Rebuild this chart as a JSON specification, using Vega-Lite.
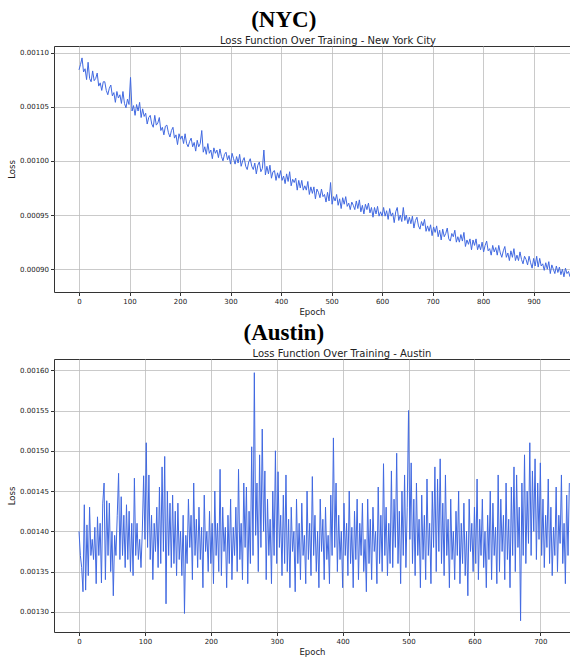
{
"$schema": "https://vega.github.io/schema/vega-lite/v6.json",
"background": "white",
"padding": {"left": 7, "top": 9, "right": 0, "bottom": 0},
"spacing": 5,
"config": {
 "view": {"stroke": "#333333", "strokeWidth": 1},
 "axis": {"labelFont": "DejaVu Sans", "labelFontSize": 7, "labelColor": "#222222", "titleFont": "DejaVu Sans", "titleFontSize": 8.5, "titleFontWeight": "normal", "titleColor": "#222222", "tickColor": "#333333", "tickSize": 3.5, "domain": false, "gridColor": "#bdbdbd", "gridWidth": 0.8, "labelPadding": 2, "titlePadding": 3},
 "concat": {"spacing": 5}
},
"datasets": {
"nyc": [
{"epoch":0,"loss":0.001084},{"epoch":3,"loss":0.001089},{"epoch":6,"loss":0.001095},{"epoch":9,"loss":0.001082},{"epoch":12,"loss":0.001085},{"epoch":15,"loss":0.001075},{"epoch":18,"loss":0.001091},{"epoch":21,"loss":0.001076},{"epoch":24,"loss":0.001073},{"epoch":27,"loss":0.001083},{"epoch":30,"loss":0.001074},{"epoch":33,"loss":0.001076},{"epoch":36,"loss":0.001081},{"epoch":39,"loss":0.001069},{"epoch":42,"loss":0.001072},{"epoch":45,"loss":0.001065},{"epoch":48,"loss":0.001073},
{"epoch":51,"loss":0.001073},{"epoch":54,"loss":0.001065},{"epoch":57,"loss":0.001061},{"epoch":60,"loss":0.001067},{"epoch":63,"loss":0.001070},{"epoch":66,"loss":0.001060},{"epoch":69,"loss":0.001063},{"epoch":72,"loss":0.001054},{"epoch":75,"loss":0.001064},{"epoch":78,"loss":0.001058},{"epoch":81,"loss":0.001061},{"epoch":84,"loss":0.001053},{"epoch":87,"loss":0.001064},{"epoch":90,"loss":0.001053},{"epoch":93,"loss":0.001049},{"epoch":96,"loss":0.001057},{"epoch":99,"loss":0.001052},
{"epoch":102,"loss":0.001077},{"epoch":105,"loss":0.001046},{"epoch":108,"loss":0.001051},{"epoch":111,"loss":0.001042},{"epoch":114,"loss":0.001052},{"epoch":117,"loss":0.001046},{"epoch":120,"loss":0.001054},{"epoch":123,"loss":0.001040},{"epoch":126,"loss":0.001048},{"epoch":129,"loss":0.001041},{"epoch":132,"loss":0.001044},{"epoch":135,"loss":0.001034},{"epoch":138,"loss":0.001040},{"epoch":141,"loss":0.001042},{"epoch":144,"loss":0.001034},{"epoch":147,"loss":0.001031},{"epoch":150,"loss":0.001042},
{"epoch":153,"loss":0.001033},{"epoch":156,"loss":0.001035},{"epoch":159,"loss":0.001040},{"epoch":162,"loss":0.001028},{"epoch":165,"loss":0.001031},{"epoch":168,"loss":0.001024},{"epoch":171,"loss":0.001032},{"epoch":174,"loss":0.001033},{"epoch":177,"loss":0.001026},{"epoch":180,"loss":0.001022},{"epoch":183,"loss":0.001028},{"epoch":186,"loss":0.001031},{"epoch":189,"loss":0.001021},{"epoch":192,"loss":0.001024},{"epoch":195,"loss":0.001015},{"epoch":198,"loss":0.001025},
{"epoch":201,"loss":0.001020},{"epoch":204,"loss":0.001023},{"epoch":207,"loss":0.001016},{"epoch":210,"loss":0.001025},{"epoch":213,"loss":0.001016},{"epoch":216,"loss":0.001013},{"epoch":219,"loss":0.001018},{"epoch":222,"loss":0.001021},{"epoch":225,"loss":0.001013},{"epoch":228,"loss":0.001017},{"epoch":231,"loss":0.001009},{"epoch":234,"loss":0.001019},{"epoch":237,"loss":0.001013},{"epoch":240,"loss":0.001016},{"epoch":243,"loss":0.001028},{"epoch":246,"loss":0.001008},{"epoch":249,"loss":0.001013},
{"epoch":252,"loss":0.001006},{"epoch":255,"loss":0.001016},{"epoch":258,"loss":0.001007},{"epoch":261,"loss":0.001010},{"epoch":264,"loss":0.001002},{"epoch":267,"loss":0.001012},{"epoch":270,"loss":0.001007},{"epoch":273,"loss":0.001010},{"epoch":276,"loss":0.001003},{"epoch":279,"loss":0.001011},{"epoch":282,"loss":0.001004},{"epoch":285,"loss":0.001000},{"epoch":288,"loss":0.001006},{"epoch":291,"loss":0.001008},{"epoch":294,"loss":0.001001},{"epoch":297,"loss":0.001005},{"epoch":300,"loss":0.000997},
{"epoch":303,"loss":0.001007},{"epoch":306,"loss":0.001002},{"epoch":309,"loss":0.000997},{"epoch":312,"loss":0.001004},{"epoch":315,"loss":0.000998},{"epoch":318,"loss":0.001006},{"epoch":321,"loss":0.000995},{"epoch":324,"loss":0.001000},{"epoch":327,"loss":0.001003},{"epoch":330,"loss":0.000995},{"epoch":333,"loss":0.000992},{"epoch":336,"loss":0.000999},{"epoch":339,"loss":0.001002},{"epoch":342,"loss":0.000995},{"epoch":345,"loss":0.000992},{"epoch":348,"loss":0.000998},
{"epoch":351,"loss":0.000988},{"epoch":354,"loss":0.000996},{"epoch":357,"loss":0.000999},{"epoch":360,"loss":0.000990},{"epoch":363,"loss":0.000993},{"epoch":366,"loss":0.001010},{"epoch":369,"loss":0.000987},{"epoch":372,"loss":0.000995},{"epoch":375,"loss":0.000988},{"epoch":378,"loss":0.000996},{"epoch":381,"loss":0.000984},{"epoch":384,"loss":0.000990},{"epoch":387,"loss":0.000991},{"epoch":390,"loss":0.000982},{"epoch":393,"loss":0.000989},{"epoch":396,"loss":0.000984},{"epoch":399,"loss":0.000991},
{"epoch":402,"loss":0.000982},{"epoch":405,"loss":0.000986},{"epoch":408,"loss":0.000979},{"epoch":411,"loss":0.000988},{"epoch":414,"loss":0.000981},{"epoch":417,"loss":0.000990},{"epoch":420,"loss":0.000977},{"epoch":423,"loss":0.000983},{"epoch":426,"loss":0.000980},{"epoch":429,"loss":0.000984},{"epoch":432,"loss":0.000973},{"epoch":435,"loss":0.000982},{"epoch":438,"loss":0.000975},{"epoch":441,"loss":0.000982},{"epoch":444,"loss":0.000973},{"epoch":447,"loss":0.000977},{"epoch":450,"loss":0.000973},
{"epoch":453,"loss":0.000981},{"epoch":456,"loss":0.000969},{"epoch":459,"loss":0.000976},{"epoch":462,"loss":0.000970},{"epoch":465,"loss":0.000976},{"epoch":468,"loss":0.000965},{"epoch":471,"loss":0.000974},{"epoch":474,"loss":0.000971},{"epoch":477,"loss":0.000966},{"epoch":480,"loss":0.000974},{"epoch":483,"loss":0.000967},{"epoch":486,"loss":0.000969},{"epoch":489,"loss":0.000962},{"epoch":492,"loss":0.000971},{"epoch":495,"loss":0.000963},{"epoch":498,"loss":0.000980},
{"epoch":501,"loss":0.000960},{"epoch":504,"loss":0.000967},{"epoch":507,"loss":0.000963},{"epoch":510,"loss":0.000969},{"epoch":513,"loss":0.000959},{"epoch":516,"loss":0.000965},{"epoch":519,"loss":0.000956},{"epoch":522,"loss":0.000966},{"epoch":525,"loss":0.000960},{"epoch":528,"loss":0.000967},{"epoch":531,"loss":0.000958},{"epoch":534,"loss":0.000961},{"epoch":537,"loss":0.000955},{"epoch":540,"loss":0.000962},{"epoch":543,"loss":0.000959},{"epoch":546,"loss":0.000955},{"epoch":549,"loss":0.000963},
{"epoch":552,"loss":0.000956},{"epoch":555,"loss":0.000964},{"epoch":558,"loss":0.000953},{"epoch":561,"loss":0.000959},{"epoch":564,"loss":0.000951},{"epoch":567,"loss":0.000960},{"epoch":570,"loss":0.000955},{"epoch":573,"loss":0.000961},{"epoch":576,"loss":0.000952},{"epoch":579,"loss":0.000957},{"epoch":582,"loss":0.000948},{"epoch":585,"loss":0.000957},{"epoch":588,"loss":0.000951},{"epoch":591,"loss":0.000958},{"epoch":594,"loss":0.000949},{"epoch":597,"loss":0.000953},{"epoch":600,"loss":0.000949},
{"epoch":603,"loss":0.000957},{"epoch":606,"loss":0.000949},{"epoch":609,"loss":0.000954},{"epoch":612,"loss":0.000946},{"epoch":615,"loss":0.000956},{"epoch":618,"loss":0.000949},{"epoch":621,"loss":0.000952},{"epoch":624,"loss":0.000943},{"epoch":627,"loss":0.000953},{"epoch":630,"loss":0.000957},{"epoch":633,"loss":0.000945},{"epoch":636,"loss":0.000950},{"epoch":639,"loss":0.000944},{"epoch":642,"loss":0.000957},{"epoch":645,"loss":0.000945},{"epoch":648,"loss":0.000950},
{"epoch":651,"loss":0.000942},{"epoch":654,"loss":0.000948},{"epoch":657,"loss":0.000942},{"epoch":660,"loss":0.000949},{"epoch":663,"loss":0.000938},{"epoch":666,"loss":0.000945},{"epoch":669,"loss":0.000948},{"epoch":672,"loss":0.000940},{"epoch":675,"loss":0.000937},{"epoch":678,"loss":0.000944},{"epoch":681,"loss":0.000940},{"epoch":684,"loss":0.000946},{"epoch":687,"loss":0.000935},{"epoch":690,"loss":0.000940},{"epoch":693,"loss":0.000935},{"epoch":696,"loss":0.000941},{"epoch":699,"loss":0.000931},
{"epoch":702,"loss":0.000939},{"epoch":705,"loss":0.000934},{"epoch":708,"loss":0.000940},{"epoch":711,"loss":0.000930},{"epoch":714,"loss":0.000936},{"epoch":717,"loss":0.000927},{"epoch":720,"loss":0.000937},{"epoch":723,"loss":0.000930},{"epoch":726,"loss":0.000933},{"epoch":729,"loss":0.000938},{"epoch":732,"loss":0.000928},{"epoch":735,"loss":0.000926},{"epoch":738,"loss":0.000933},{"epoch":741,"loss":0.000930},{"epoch":744,"loss":0.000936},{"epoch":747,"loss":0.000925},{"epoch":750,"loss":0.000930},
{"epoch":753,"loss":0.000925},{"epoch":756,"loss":0.000932},{"epoch":759,"loss":0.000926},{"epoch":762,"loss":0.000934},{"epoch":765,"loss":0.000921},{"epoch":768,"loss":0.000927},{"epoch":771,"loss":0.000923},{"epoch":774,"loss":0.000928},{"epoch":777,"loss":0.000918},{"epoch":780,"loss":0.000927},{"epoch":783,"loss":0.000922},{"epoch":786,"loss":0.000928},{"epoch":789,"loss":0.000918},{"epoch":792,"loss":0.000923},{"epoch":795,"loss":0.000918},{"epoch":798,"loss":0.000925},
{"epoch":801,"loss":0.000916},{"epoch":804,"loss":0.000922},{"epoch":807,"loss":0.000926},{"epoch":810,"loss":0.000917},{"epoch":813,"loss":0.000919},{"epoch":816,"loss":0.000913},{"epoch":819,"loss":0.000922},{"epoch":822,"loss":0.000916},{"epoch":825,"loss":0.000920},{"epoch":828,"loss":0.000913},{"epoch":831,"loss":0.000922},{"epoch":834,"loss":0.000915},{"epoch":837,"loss":0.000911},{"epoch":840,"loss":0.000917},{"epoch":843,"loss":0.000921},{"epoch":846,"loss":0.000911},{"epoch":849,"loss":0.000915},
{"epoch":852,"loss":0.000908},{"epoch":855,"loss":0.000917},{"epoch":858,"loss":0.000911},{"epoch":861,"loss":0.000919},{"epoch":864,"loss":0.000908},{"epoch":867,"loss":0.000913},{"epoch":870,"loss":0.000908},{"epoch":873,"loss":0.000916},{"epoch":876,"loss":0.000909},{"epoch":879,"loss":0.000905},{"epoch":882,"loss":0.000912},{"epoch":885,"loss":0.000909},{"epoch":888,"loss":0.000904},{"epoch":891,"loss":0.000912},{"epoch":894,"loss":0.000906},{"epoch":897,"loss":0.000901},
{"epoch":900,"loss":0.000910},{"epoch":903,"loss":0.000903},{"epoch":906,"loss":0.000912},{"epoch":909,"loss":0.000902},{"epoch":912,"loss":0.000910},{"epoch":915,"loss":0.000903},{"epoch":918,"loss":0.000905},{"epoch":921,"loss":0.000899},{"epoch":924,"loss":0.000906},{"epoch":927,"loss":0.000900},{"epoch":930,"loss":0.000907},{"epoch":933,"loss":0.000896},{"epoch":936,"loss":0.000904},{"epoch":939,"loss":0.000900},{"epoch":942,"loss":0.000896},{"epoch":945,"loss":0.000903},{"epoch":948,"loss":0.000897},
{"epoch":951,"loss":0.000902},{"epoch":954,"loss":0.000895},{"epoch":957,"loss":0.000900},{"epoch":960,"loss":0.000893},{"epoch":963,"loss":0.000901},{"epoch":966,"loss":0.000896},{"epoch":969,"loss":0.000898},{"epoch":972,"loss":0.000893}
],
"austin": [
{"epoch":0,"loss":0.001400},{"epoch":2,"loss":0.001370},{"epoch":4,"loss":0.001355},{"epoch":6,"loss":0.001325},{"epoch":8,"loss":0.001433},{"epoch":10,"loss":0.001327},{"epoch":12,"loss":0.001408},{"epoch":14,"loss":0.001345},{"epoch":16,"loss":0.001430},{"epoch":18,"loss":0.001370},{"epoch":20,"loss":0.001390},{"epoch":22,"loss":0.001365},{"epoch":24,"loss":0.001405},{"epoch":26,"loss":0.001335},{"epoch":28,"loss":0.001418},{"epoch":30,"loss":0.001370},{"epoch":32,"loss":0.001410},{"epoch":34,"loss":0.001336},{"epoch":36,"loss":0.001435},{"epoch":38,"loss":0.001460},{"epoch":40,"loss":0.001340},{"epoch":42,"loss":0.001438},{"epoch":44,"loss":0.001370},{"epoch":46,"loss":0.001435},{"epoch":48,"loss":0.001350},
{"epoch":50,"loss":0.001400},{"epoch":52,"loss":0.001320},{"epoch":54,"loss":0.001395},{"epoch":56,"loss":0.001370},{"epoch":58,"loss":0.001420},{"epoch":60,"loss":0.001472},{"epoch":62,"loss":0.001365},{"epoch":64,"loss":0.001443},{"epoch":66,"loss":0.001370},{"epoch":68,"loss":0.001420},{"epoch":70,"loss":0.001355},{"epoch":72,"loss":0.001433},{"epoch":74,"loss":0.001365},{"epoch":76,"loss":0.001425},{"epoch":78,"loss":0.001350},{"epoch":80,"loss":0.001410},{"epoch":82,"loss":0.001345},{"epoch":84,"loss":0.001466},{"epoch":86,"loss":0.001370},{"epoch":88,"loss":0.001410},{"epoch":90,"loss":0.001365},{"epoch":92,"loss":0.001390},{"epoch":94,"loss":0.001355},{"epoch":96,"loss":0.001400},{"epoch":98,"loss":0.001469},
{"epoch":100,"loss":0.001390},{"epoch":102,"loss":0.001510},{"epoch":104,"loss":0.001380},{"epoch":106,"loss":0.001470},{"epoch":108,"loss":0.001365},{"epoch":110,"loss":0.001420},{"epoch":112,"loss":0.001340},{"epoch":114,"loss":0.001410},{"epoch":116,"loss":0.001375},{"epoch":118,"loss":0.001430},{"epoch":120,"loss":0.001355},{"epoch":122,"loss":0.001455},{"epoch":124,"loss":0.001360},{"epoch":126,"loss":0.001480},{"epoch":128,"loss":0.001375},{"epoch":130,"loss":0.001493},{"epoch":132,"loss":0.001310},{"epoch":134,"loss":0.001450},{"epoch":136,"loss":0.001370},{"epoch":138,"loss":0.001435},{"epoch":140,"loss":0.001355},{"epoch":142,"loss":0.001445},{"epoch":144,"loss":0.001360},{"epoch":146,"loss":0.001425},{"epoch":148,"loss":0.001345},
{"epoch":150,"loss":0.001435},{"epoch":152,"loss":0.001365},{"epoch":154,"loss":0.001400},{"epoch":156,"loss":0.001345},{"epoch":158,"loss":0.001420},{"epoch":160,"loss":0.001298},{"epoch":162,"loss":0.001395},{"epoch":164,"loss":0.001360},{"epoch":166,"loss":0.001440},{"epoch":168,"loss":0.001380},{"epoch":170,"loss":0.001420},{"epoch":172,"loss":0.001340},{"epoch":174,"loss":0.001460},{"epoch":176,"loss":0.001370},{"epoch":178,"loss":0.001415},{"epoch":180,"loss":0.001355},{"epoch":182,"loss":0.001430},{"epoch":184,"loss":0.001365},{"epoch":186,"loss":0.001405},{"epoch":188,"loss":0.001330},{"epoch":190,"loss":0.001445},{"epoch":192,"loss":0.001375},{"epoch":194,"loss":0.001400},{"epoch":196,"loss":0.001350},{"epoch":198,"loss":0.001425},
{"epoch":200,"loss":0.001360},{"epoch":202,"loss":0.001410},{"epoch":204,"loss":0.001335},{"epoch":206,"loss":0.001450},{"epoch":208,"loss":0.001370},{"epoch":210,"loss":0.001410},{"epoch":212,"loss":0.001350},{"epoch":214,"loss":0.001477},{"epoch":216,"loss":0.001345},{"epoch":218,"loss":0.001430},{"epoch":220,"loss":0.001375},{"epoch":222,"loss":0.001405},{"epoch":224,"loss":0.001330},{"epoch":226,"loss":0.001420},{"epoch":228,"loss":0.001360},{"epoch":230,"loss":0.001440},{"epoch":232,"loss":0.001340},{"epoch":234,"loss":0.001405},{"epoch":236,"loss":0.001370},{"epoch":238,"loss":0.001430},{"epoch":240,"loss":0.001350},{"epoch":242,"loss":0.001477},{"epoch":244,"loss":0.001365},{"epoch":246,"loss":0.001410},{"epoch":248,"loss":0.001340},
{"epoch":250,"loss":0.001460},{"epoch":252,"loss":0.001380},{"epoch":254,"loss":0.001455},{"epoch":256,"loss":0.001335},{"epoch":258,"loss":0.001425},{"epoch":260,"loss":0.001360},{"epoch":262,"loss":0.001505},{"epoch":264,"loss":0.001370},{"epoch":266,"loss":0.001597},{"epoch":268,"loss":0.001395},{"epoch":270,"loss":0.001460},{"epoch":272,"loss":0.001350},{"epoch":274,"loss":0.001495},{"epoch":276,"loss":0.001380},{"epoch":278,"loss":0.001527},{"epoch":280,"loss":0.001400},{"epoch":282,"loss":0.001475},{"epoch":284,"loss":0.001340},{"epoch":286,"loss":0.001440},{"epoch":288,"loss":0.001370},{"epoch":290,"loss":0.001415},{"epoch":292,"loss":0.001335},{"epoch":294,"loss":0.001450},{"epoch":296,"loss":0.001370},{"epoch":298,"loss":0.001500},
{"epoch":300,"loss":0.001360},{"epoch":302,"loss":0.001474},{"epoch":304,"loss":0.001380},{"epoch":306,"loss":0.001420},{"epoch":308,"loss":0.001345},{"epoch":310,"loss":0.001445},{"epoch":312,"loss":0.001360},{"epoch":314,"loss":0.001470},{"epoch":316,"loss":0.001350},{"epoch":318,"loss":0.001415},{"epoch":320,"loss":0.001330},{"epoch":322,"loss":0.001430},{"epoch":324,"loss":0.001375},{"epoch":326,"loss":0.001400},{"epoch":328,"loss":0.001325},{"epoch":330,"loss":0.001440},{"epoch":332,"loss":0.001360},{"epoch":334,"loss":0.001410},{"epoch":336,"loss":0.001340},{"epoch":338,"loss":0.001435},{"epoch":340,"loss":0.001370},{"epoch":342,"loss":0.001395},{"epoch":344,"loss":0.001335},{"epoch":346,"loss":0.001450},{"epoch":348,"loss":0.001365},
{"epoch":350,"loss":0.001410},{"epoch":352,"loss":0.001345},{"epoch":354,"loss":0.001468},{"epoch":356,"loss":0.001370},{"epoch":358,"loss":0.001420},{"epoch":360,"loss":0.001350},{"epoch":362,"loss":0.001400},{"epoch":364,"loss":0.001330},{"epoch":366,"loss":0.001440},{"epoch":368,"loss":0.001375},{"epoch":370,"loss":0.001415},{"epoch":372,"loss":0.001340},{"epoch":374,"loss":0.001430},{"epoch":376,"loss":0.001365},{"epoch":378,"loss":0.001395},{"epoch":380,"loss":0.001335},{"epoch":382,"loss":0.001445},{"epoch":384,"loss":0.001370},{"epoch":386,"loss":0.001516},{"epoch":388,"loss":0.001380},{"epoch":390,"loss":0.001460},{"epoch":392,"loss":0.001350},{"epoch":394,"loss":0.001420},{"epoch":396,"loss":0.001365},{"epoch":398,"loss":0.001400},
{"epoch":400,"loss":0.001330},{"epoch":402,"loss":0.001435},{"epoch":404,"loss":0.001370},{"epoch":406,"loss":0.001410},{"epoch":408,"loss":0.001345},{"epoch":410,"loss":0.001450},{"epoch":412,"loss":0.001360},{"epoch":414,"loss":0.001405},{"epoch":416,"loss":0.001330},{"epoch":418,"loss":0.001425},{"epoch":420,"loss":0.001365},{"epoch":422,"loss":0.001440},{"epoch":424,"loss":0.001340},{"epoch":426,"loss":0.001410},{"epoch":428,"loss":0.001370},{"epoch":430,"loss":0.001435},{"epoch":432,"loss":0.001350},{"epoch":434,"loss":0.001390},{"epoch":436,"loss":0.001325},{"epoch":438,"loss":0.001440},{"epoch":440,"loss":0.001360},{"epoch":442,"loss":0.001415},{"epoch":444,"loss":0.001340},{"epoch":446,"loss":0.001430},{"epoch":448,"loss":0.001375},
{"epoch":450,"loss":0.001400},{"epoch":452,"loss":0.001335},{"epoch":454,"loss":0.001455},{"epoch":456,"loss":0.001360},{"epoch":458,"loss":0.001420},{"epoch":460,"loss":0.001350},{"epoch":462,"loss":0.001484},{"epoch":464,"loss":0.001370},{"epoch":466,"loss":0.001430},{"epoch":468,"loss":0.001345},{"epoch":470,"loss":0.001410},{"epoch":472,"loss":0.001360},{"epoch":474,"loss":0.001475},{"epoch":476,"loss":0.001355},{"epoch":478,"loss":0.001440},{"epoch":480,"loss":0.001380},{"epoch":482,"loss":0.001497},{"epoch":484,"loss":0.001360},{"epoch":486,"loss":0.001425},{"epoch":488,"loss":0.001335},{"epoch":490,"loss":0.001450},{"epoch":492,"loss":0.001370},{"epoch":494,"loss":0.001470},{"epoch":496,"loss":0.001355},{"epoch":498,"loss":0.001430},
{"epoch":500,"loss":0.001550},{"epoch":502,"loss":0.001390},{"epoch":504,"loss":0.001485},{"epoch":506,"loss":0.001360},{"epoch":508,"loss":0.001440},{"epoch":510,"loss":0.001345},{"epoch":512,"loss":0.001460},{"epoch":514,"loss":0.001370},{"epoch":516,"loss":0.001415},{"epoch":518,"loss":0.001330},{"epoch":520,"loss":0.001445},{"epoch":522,"loss":0.001365},{"epoch":524,"loss":0.001420},{"epoch":526,"loss":0.001340},{"epoch":528,"loss":0.001465},{"epoch":530,"loss":0.001370},{"epoch":532,"loss":0.001410},{"epoch":534,"loss":0.001335},{"epoch":536,"loss":0.001450},{"epoch":538,"loss":0.001380},{"epoch":540,"loss":0.001480},{"epoch":542,"loss":0.001350},{"epoch":544,"loss":0.001465},{"epoch":546,"loss":0.001375},{"epoch":548,"loss":0.001490},
{"epoch":550,"loss":0.001360},{"epoch":552,"loss":0.001435},{"epoch":554,"loss":0.001345},{"epoch":556,"loss":0.001470},{"epoch":558,"loss":0.001370},{"epoch":560,"loss":0.001415},{"epoch":562,"loss":0.001330},{"epoch":564,"loss":0.001440},{"epoch":566,"loss":0.001365},{"epoch":568,"loss":0.001400},{"epoch":570,"loss":0.001340},{"epoch":572,"loss":0.001425},{"epoch":574,"loss":0.001370},{"epoch":576,"loss":0.001450},{"epoch":578,"loss":0.001335},{"epoch":580,"loss":0.001410},{"epoch":582,"loss":0.001360},{"epoch":584,"loss":0.001435},{"epoch":586,"loss":0.001345},{"epoch":588,"loss":0.001400},{"epoch":590,"loss":0.001320},{"epoch":592,"loss":0.001440},{"epoch":594,"loss":0.001375},{"epoch":596,"loss":0.001410},{"epoch":598,"loss":0.001350},
{"epoch":600,"loss":0.001430},{"epoch":602,"loss":0.001360},{"epoch":604,"loss":0.001465},{"epoch":606,"loss":0.001340},{"epoch":608,"loss":0.001415},{"epoch":610,"loss":0.001370},{"epoch":612,"loss":0.001440},{"epoch":614,"loss":0.001355},{"epoch":616,"loss":0.001400},{"epoch":618,"loss":0.001330},{"epoch":620,"loss":0.001420},{"epoch":622,"loss":0.001365},{"epoch":624,"loss":0.001450},{"epoch":626,"loss":0.001340},{"epoch":628,"loss":0.001435},{"epoch":630,"loss":0.001370},{"epoch":632,"loss":0.001405},{"epoch":634,"loss":0.001335},{"epoch":636,"loss":0.001470},{"epoch":638,"loss":0.001350},{"epoch":640,"loss":0.001440},{"epoch":642,"loss":0.001375},{"epoch":644,"loss":0.001420},{"epoch":646,"loss":0.001340},{"epoch":648,"loss":0.001460},
{"epoch":650,"loss":0.001365},{"epoch":652,"loss":0.001415},{"epoch":654,"loss":0.001330},{"epoch":656,"loss":0.001455},{"epoch":658,"loss":0.001370},{"epoch":660,"loss":0.001480},{"epoch":662,"loss":0.001350},{"epoch":664,"loss":0.001470},{"epoch":666,"loss":0.001380},{"epoch":668,"loss":0.001430},{"epoch":670,"loss":0.001289},{"epoch":672,"loss":0.001460},{"epoch":674,"loss":0.001370},{"epoch":676,"loss":0.001495},{"epoch":678,"loss":0.001360},{"epoch":680,"loss":0.001450},{"epoch":682,"loss":0.001385},{"epoch":684,"loss":0.001510},{"epoch":686,"loss":0.001370},{"epoch":688,"loss":0.001475},{"epoch":690,"loss":0.001400},{"epoch":692,"loss":0.001490},{"epoch":694,"loss":0.001365},{"epoch":696,"loss":0.001460},{"epoch":698,"loss":0.001390},
{"epoch":700,"loss":0.001485},{"epoch":702,"loss":0.001370},{"epoch":704,"loss":0.001440},{"epoch":706,"loss":0.001355},{"epoch":708,"loss":0.001420},{"epoch":710,"loss":0.001380},{"epoch":712,"loss":0.001465},{"epoch":714,"loss":0.001360},{"epoch":716,"loss":0.001430},{"epoch":718,"loss":0.001345},{"epoch":720,"loss":0.001405},{"epoch":722,"loss":0.001370},{"epoch":724,"loss":0.001455},{"epoch":726,"loss":0.001350},{"epoch":728,"loss":0.001420},{"epoch":730,"loss":0.001385},{"epoch":732,"loss":0.001470},{"epoch":734,"loss":0.001360},{"epoch":736,"loss":0.001410},{"epoch":738,"loss":0.001335},{"epoch":740,"loss":0.001445},{"epoch":742,"loss":0.001370},{"epoch":744,"loss":0.001460}
]
},
"vconcat": [
 {
  "title": {"text": "(NYC)", "font": "Liberation Serif", "fontSize": 23, "fontWeight": "bold", "color": "#000000", "anchor": "middle", "dx": -5, "offset": 3.5},
  "vconcat": [
   {
    "width": 516, "height": 246,
    "data": {"name": "nyc"},
    "title": {"text": "Loss Function Over Training - New York City", "font": "DejaVu Sans", "fontSize": 10, "fontWeight": "normal", "color": "#222222", "anchor": "middle", "dx": 16, "offset": 0},
    "mark": {"type": "line", "color": "#4169E1", "strokeWidth": 1, "clip": true},
    "encoding": {
     "x": {"field": "epoch", "type": "quantitative", "scale": {"domain": [-49.5, 972], "nice": false, "zero": false}, "axis": {"values": [0,100,200,300,400,500,600,700,800,900], "format": "d", "title": "Epoch"}},
     "y": {"field": "loss", "type": "quantitative", "scale": {"domain": [0.000879, 0.001106], "nice": false, "zero": false}, "axis": {"values": [0.0009,0.00095,0.001,0.00105,0.0011], "format": ".5f", "title": "Loss"}}
    }
   }
  ]
 },
 {
  "title": {"text": "(Austin)", "font": "Liberation Serif", "fontSize": 23, "fontWeight": "bold", "color": "#000000", "anchor": "middle", "dx": -5, "offset": 3.5},
  "vconcat": [
   {
    "width": 516, "height": 273,
    "data": {"name": "austin"},
    "title": {"text": "Loss Function Over Training - Austin", "font": "DejaVu Sans", "fontSize": 10, "fontWeight": "normal", "color": "#222222", "anchor": "middle", "dx": 30, "offset": 0},
    "mark": {"type": "line", "color": "#4169E1", "strokeWidth": 1, "clip": true},
    "encoding": {
     "x": {"field": "epoch", "type": "quantitative", "scale": {"domain": [-38, 745], "nice": false, "zero": false}, "axis": {"values": [0,100,200,300,400,500,600,700], "format": "d", "title": "Epoch"}},
     "y": {"field": "loss", "type": "quantitative", "scale": {"domain": [0.001275, 0.001614], "nice": false, "zero": false}, "axis": {"values": [0.0013,0.00135,0.0014,0.00145,0.0015,0.00155,0.0016], "format": ".5f", "title": "Loss"}}
    }
   }
  ]
 }
]
}
